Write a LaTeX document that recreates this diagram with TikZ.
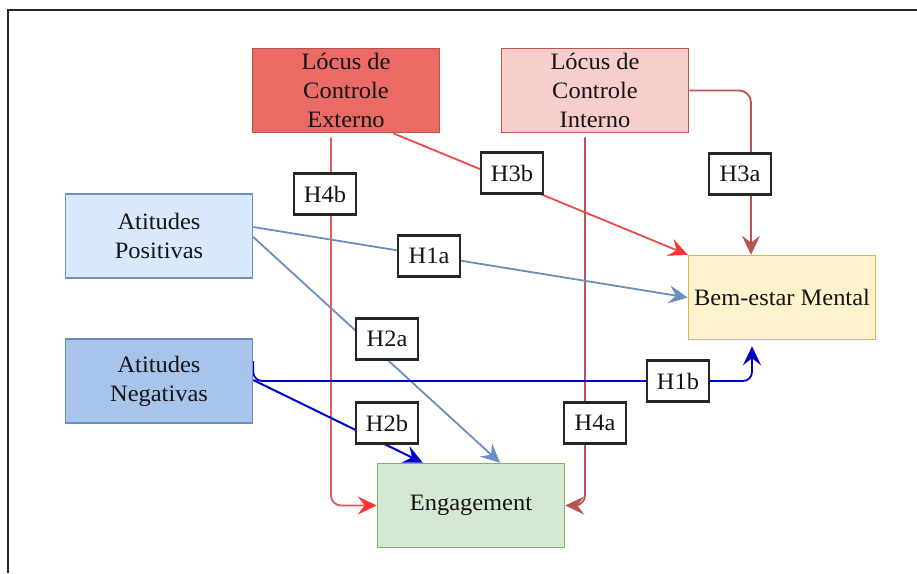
\documentclass[tikz,border=0pt]{standalone}
\usepackage{fontspec}
\setmainfont{Liberation Serif}[FakeStretch=1.04]
\usetikzlibrary{arrows.meta,calc}
\definecolor{extfill}{HTML}{EA6B66}
\definecolor{redstroke}{HTML}{B85450}
\definecolor{intfill}{HTML}{F8CECC}
\definecolor{posfill}{HTML}{DAE8FC}
\definecolor{bluestroke}{HTML}{6C8EBF}
\definecolor{negfill}{HTML}{A9C4EB}
\definecolor{bemfill}{HTML}{FFF2CC}
\definecolor{bemstroke}{HTML}{D6B656}
\definecolor{engfill}{HTML}{D5E8D4}
\definecolor{engstroke}{HTML}{82B366}
\definecolor{brightred}{HTML}{FF3333}
\definecolor{redline}{HTML}{E25A5A}
\definecolor{darkblue}{HTML}{0000CC}
\definecolor{txt}{HTML}{141414}
\pgfdeclarelayer{bg}
\pgfsetlayers{bg,main}
\begin{document}
\begin{tikzpicture}[x=1pt,y=-1pt,
  box/.style={draw, line width=1.5pt, minimum width=187pt, minimum height=84pt,
    align=center, inner sep=0pt, text=txt, font=\fontsize{23.5}{29}\selectfont},
  hlab/.style={draw=black!85, fill=white, line width=2.2pt, minimum width=62pt,
    minimum height=41pt, inner sep=0pt, text=txt, font=\fontsize{23.5}{27}\selectfont},
  tip/.style={-{Stealth[length=19pt,width=18pt,inset=7pt,#1]}},
  conn/.style={line width=1.8pt, tip={}}]
\useasboundingbox (0,0) rectangle (917,573);
\draw[line width=1.5pt, black!85] (917,10) -- (8,10) -- (8,573);

% boxes
\node[box, fill=extfill, draw=redstroke] (ext) at (346,90.5) {Lócus de\\Controle\\Externo};
\node[box, fill=intfill, draw=redstroke] (int) at (595,90.5) {Lócus de\\Controle\\Interno};
\node[box, fill=posfill, draw=bluestroke] (pos) at (159,236) {Atitudes\\Positivas};
\node[box, fill=negfill, draw=bluestroke] (neg) at (159,381) {Atitudes\\Negativas};
\node[box, fill=bemfill, draw=bemstroke] (bem) at (782,297.5) {Bem-estar Mental};
\node[box, fill=engfill, draw=engstroke] (eng) at (471,505.5) {Engagement};

% labels
\node[hlab] (h4b) at (325,194) {H4b};
\node[hlab] (h3b) at (512,173) {H3b};
\node[hlab] (h3a) at (740,174) {H3a};
\node[hlab] (h1a) at (429,256) {H1a};
\node[hlab] (h2a) at (387,339) {H2a};
\node[hlab] (h2b) at (387,423) {H2b};
\node[hlab] (h1b) at (678,381) {H1b};
\node[hlab] (h4a) at (595,423) {H4a};

\coordinate (x331) at (331,0);
\coordinate (x585) at (585,0);
\coordinate (x751) at (751,0);

\begin{pgfonlayer}{bg}
% H4b
\draw[line width=1.8pt, redline, rounded corners=10pt, shorten <=4pt, tip={color=brightred}]
  (ext.south -| x331) |- (eng.west);
% H4a
\draw[conn, redstroke, rounded corners=10pt, shorten <=4pt]
  (int.south -| x585) |- (eng.east);
% H3a
\draw[conn, redstroke, rounded corners=12pt]
  (int.east) -| (bem.north -| x751);
% H3b
\draw[line width=1.8pt, redline!60!brightred, tip={color=brightred}]
  ($(ext.south west)!0.75!(ext.south east)$) -- (bem.north west);
% H1a
\draw[conn, bluestroke] ($(pos.east)+(0,-9)$) -- (bem.west);
% H2a
\draw[conn, bluestroke] ($(pos.east)+(0,1)$) -- ($(eng.north)+(29,0)$);
% H1b
\draw[conn, darkblue, rounded corners=9pt]
  ($(neg.east)+(0,-20)$) |- (h1b.west) -| ($(bem.south)+(-30,6)$);
% H2b
\draw[conn, darkblue, line width=2pt] ($(neg.east)+(0,-1)$) -- ($(eng.north west)+(46,0)$);
\end{pgfonlayer}
\end{tikzpicture}
\end{document}
